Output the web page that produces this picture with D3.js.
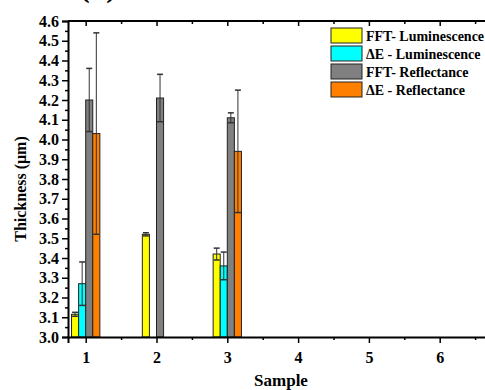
<!DOCTYPE html>
<html>
<head>
<meta charset="utf-8">
<script src="https://cdn.jsdelivr.net/npm/d3@7"></script>
<style>
  html, body { margin: 0; padding: 0; background: #fff; }
  svg { display: block; }
  svg text { font-family: "Liberation Serif", "DejaVu Serif", serif; font-weight: bold; fill: #000; }
</style>
</head>
<body>
<svg id="chart" width="485" height="390"></svg>
<script>
// ---- data ----
const samples = [1, 2, 3];
const seriesNames = ["FFT- Luminescence", "\u0394E - Luminescence", "FFT- Reflectance", "\u0394E - Reflectance"];
const seriesColors = ["#ffff00", "#00ffff", "#808080", "#ff8000"];
const fftLum = [3.115, 3.52, 3.42];
const fftLumErr = [0.01, 0.008, 0.03];
const deLum = [3.27, null, 3.36];
const deLumErr = [0.11, null, 0.07];
const fftRef = [4.20, 4.21, 4.11];
const fftRefErr = [0.16, 0.12, 0.025];
const deRef = [4.03, null, 3.94];
const deRefErr = [0.51, null, 0.31];
const xTicks = [1, 2, 3, 4, 5, 6];
const yTicks = [3.0, 3.1, 3.2, 3.3, 3.4, 3.5, 3.6, 3.7, 3.8, 3.9, 4.0, 4.1, 4.2, 4.3, 4.4, 4.5, 4.6];

const values = [fftLum, deLum, fftRef, deRef];
const errors = [fftLumErr, deLumErr, fftRefErr, deRefErr];

const FONT = "Liberation Serif, DejaVu Serif, serif";
const svg = d3.select("#chart");
const plotLeft = 68, plotTop = 21, plotBottom = 337;

const x = d3.scaleLinear().domain([0.75, 7]).range([plotLeft, plotLeft + 6.25 * 70.8]);
const y = d3.scaleLinear().domain([3.0, 4.6]).range([plotBottom, plotTop]);

// flatten bars
const bars = [];
values.forEach((vals, si) => {
  vals.forEach((v, k) => {
    if (v == null) return;
    bars.push({ s: samples[k], si, v, e: errors[si][k] });
  });
});
const barW = 0.1;

svg.append("g").selectAll("rect").data(bars).join("rect")
  .attr("x", d => x(d.s + (d.si - 2) * barW))
  .attr("width", d => x(d.s + (d.si - 1) * barW) - x(d.s + (d.si - 2) * barW))
  .attr("y", d => y(d.v))
  .attr("height", d => plotBottom - y(d.v))
  .attr("fill", d => seriesColors[d.si])
  .attr("stroke", "#222").attr("stroke-width", 1);

// error bars
const gErr = svg.append("g").attr("stroke", "#333");
bars.forEach(d => {
  const cx = x(d.s + (d.si - 1.5) * barW);
  const hw = 3;
  const g = gErr.append("g");
  g.append("line").attr("x1", cx).attr("x2", cx).attr("y1", y(d.v + d.e)).attr("y2", y(d.v - d.e)).attr("stroke-width", 1);
  [d.v + d.e, d.v - d.e].forEach(t => {
    g.append("line").attr("x1", cx - hw).attr("x2", cx + hw).attr("y1", y(t)).attr("y2", y(t)).attr("stroke-width", 1.5);
  });
});

// axes
const minorX = d3.range(1.5, 7, 1);
const minorY = d3.range(3.05, 4.6, 0.1);

svg.append("g").attr("transform", `translate(0,${plotBottom})`)
  .call(d3.axisBottom(x).tickValues(xTicks).tickSize(6).tickPadding(9).tickFormat(d3.format("d")));
svg.append("g").attr("transform", `translate(0,${plotBottom})`)
  .call(d3.axisBottom(x).tickValues(minorX).tickSize(3).tickFormat(""))
  .call(g => g.select(".domain").remove());

const xTop = svg.append("g").attr("transform", `translate(0,${plotTop})`)
  .call(d3.axisBottom(x).tickValues(xTicks).tickSize(5).tickFormat(""));
svg.append("g").attr("transform", `translate(0,${plotTop})`)
  .call(d3.axisBottom(x).tickValues(minorX).tickSize(3).tickFormat(""))
  .call(g => g.select(".domain").remove());

svg.append("g").attr("transform", `translate(${plotLeft},0)`)
  .call(d3.axisLeft(y).tickValues(yTicks).tickSize(6).tickPadding(3).tickFormat(d3.format(".1f")));
svg.append("g").attr("transform", `translate(${plotLeft},0)`)
  .call(d3.axisLeft(y).tickValues(minorY).tickSize(3).tickFormat(""))
  .call(g => g.select(".domain").remove());

svg.selectAll("g").attr("font-family", FONT);
svg.selectAll(".domain").attr("stroke", "#000").attr("stroke-width", 2);
svg.selectAll(".tick line").attr("stroke", "#000").attr("stroke-width", 1.5);
svg.selectAll(".tick text").attr("fill", "#000").attr("font-size", 16);
xTop.select(".domain").attr("d", `M${plotLeft},0H485`);

// labels
svg.append("text").attr("x", 281).attr("y", 386).attr("text-anchor", "middle")
  .attr("font-size", 17).text("Sample");
svg.append("text").attr("transform", "translate(26,189) rotate(-90)").attr("text-anchor", "middle")
  .attr("font-size", 16).text("Thickness (\u03bcm)");
svg.append("text").attr("x", 98).attr("y", -3).attr("text-anchor", "middle")
  .attr("font-size", 30).text("(b)");

// legend
const legend = svg.append("g").attr("transform", "translate(331,28)");
const rows = legend.selectAll("g").data(seriesNames).join("g")
  .attr("transform", (d, i) => `translate(0,${i * 18})`);
rows.append("rect").attr("width", 31).attr("height", 15)
  .attr("fill", (d, i) => seriesColors[i]).attr("stroke", "#222").attr("stroke-width", 1);
rows.append("text").attr("x", 35).attr("y", 12.5).attr("font-size", 14).text(d => d);
</script>
</body>
</html>
